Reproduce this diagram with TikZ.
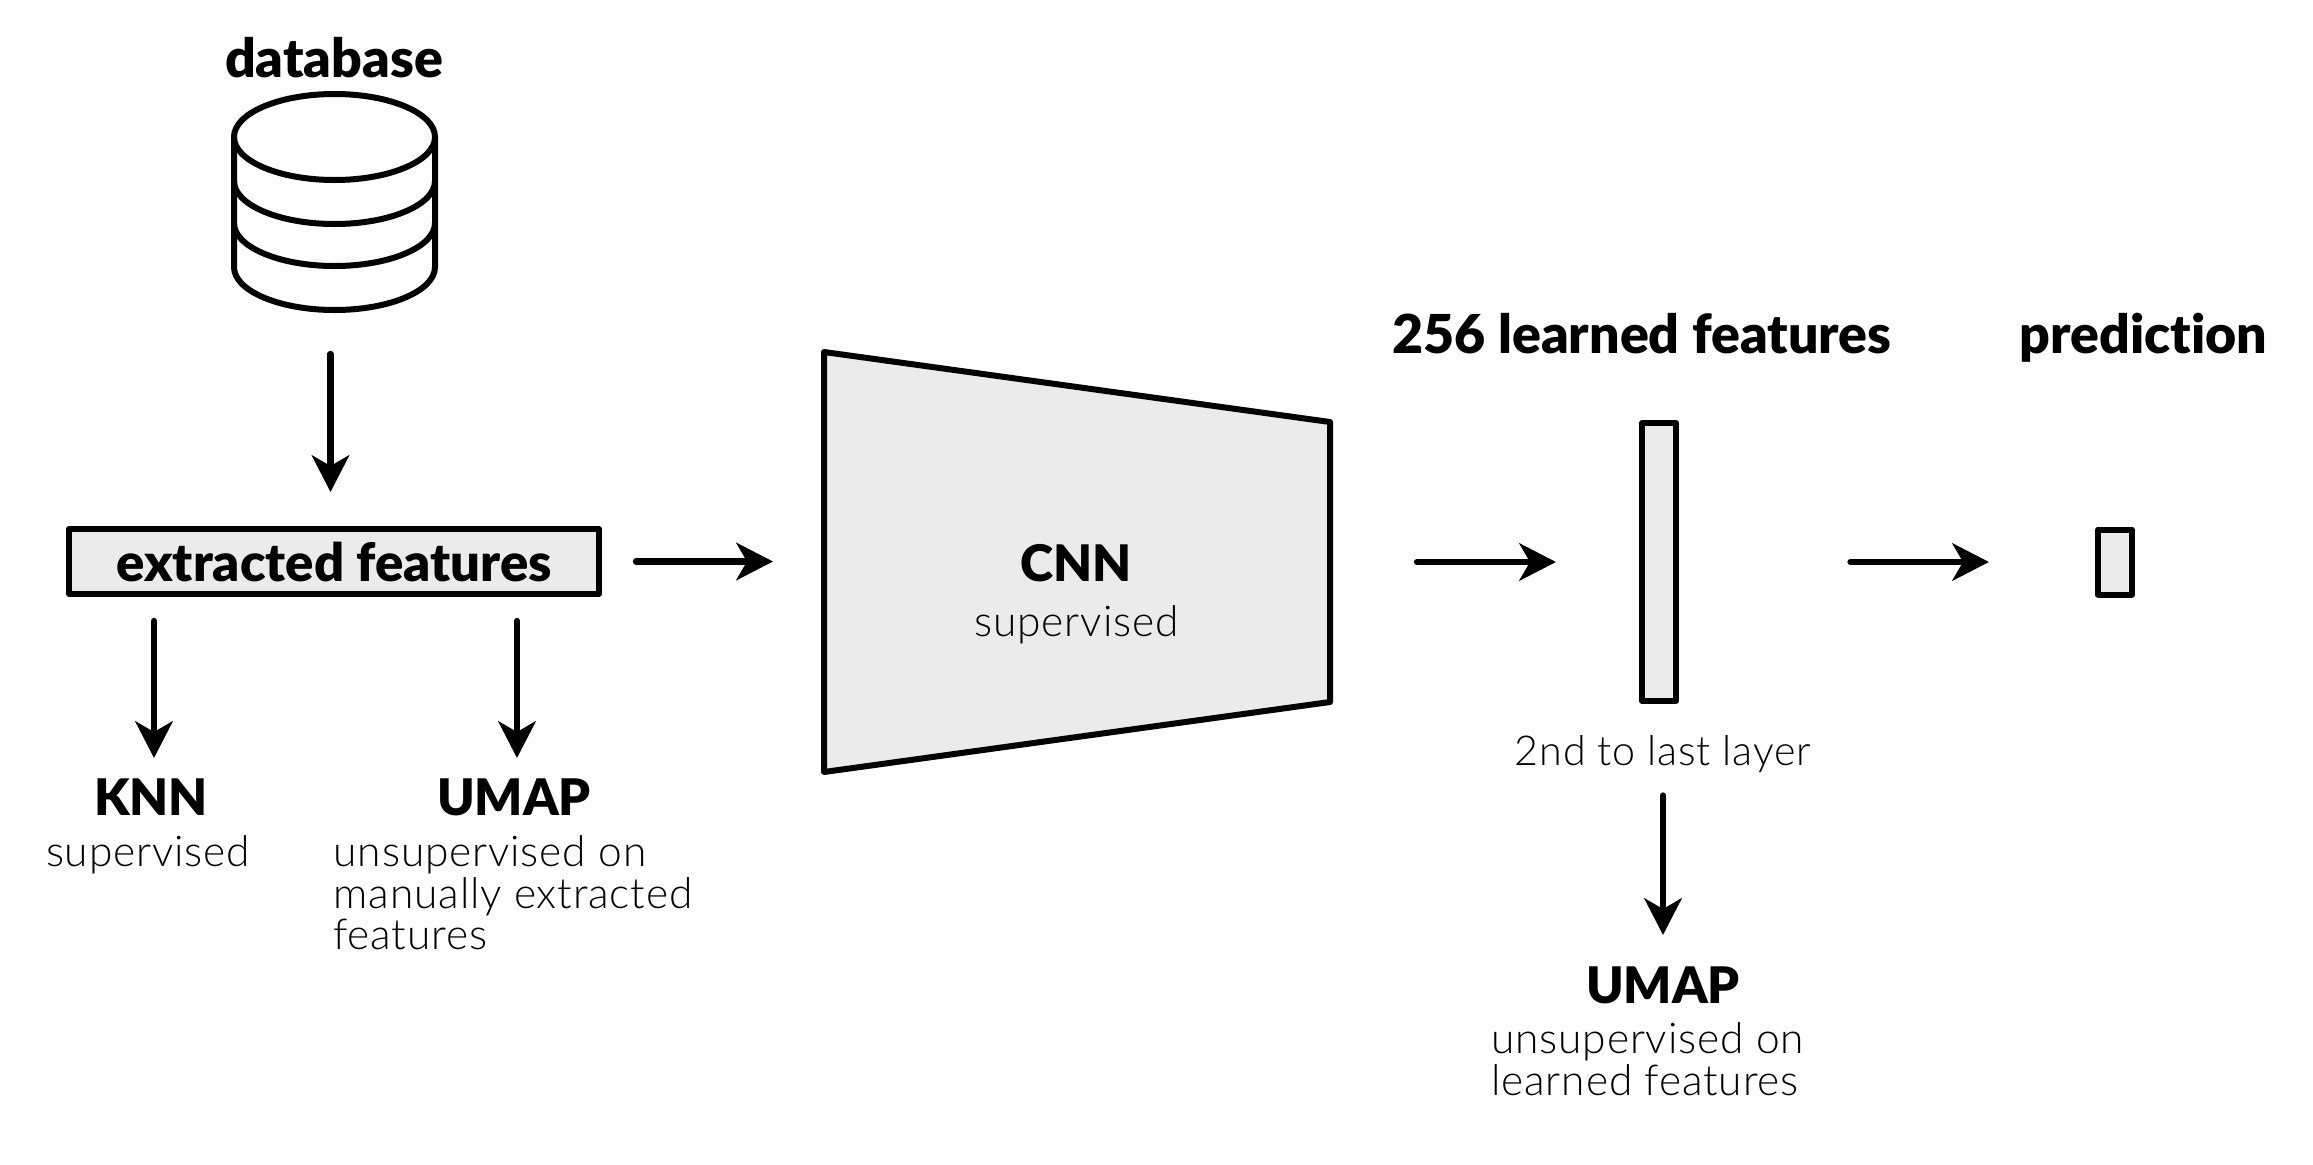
\documentclass[tikz,border=0pt]{standalone}
\usepackage{fontspec}
\setmainfont{Lato}
\newfontfamily\hdfont{Lato Black}[Ligatures=NoCommon]
\newfontfamily\ltfont{Lato Light}[LetterSpace=2,Ligatures=NoCommon]
\usetikzlibrary{arrows.meta,calc}
\definecolor{boxg}{HTML}{EBEBEB}
\tikzset{
 px/.style={x=0.03cm,y=-0.03cm},
 ln/.style={line width=0.18cm,draw=black,line cap=round,line join=round},
 box/.style={ln,fill=boxg,inner sep=0pt},
 arr/.style={line width=0.19cm,draw=black,line cap=round,-{Stealth[length=1.1cm,width=1.12cm,inset=0.32cm]}},
 hd/.style={inner sep=0pt,anchor=base,font=\fontsize{45.8pt}{46pt}\hdfont,text=black},
 hdc/.style={inner sep=0pt,anchor=base,font=\fontsize{43pt}{44pt}\hdfont,text=black},
 tx/.style={inner sep=0pt,anchor=base,font=\fontsize{36.25pt}{37pt}\ltfont,text=black},
 txl/.style={tx,anchor=base west},
}
\begin{document}
\begin{tikzpicture}[px]
\useasboundingbox (0,0) rectangle (2313,1164);
\fill[white] (0,0) rectangle (2313,1164);
% database
\node[hd] (db) at (334,77.5) {database};
\draw[ln,fill=white] (234,137) -- (234,267) arc[start angle=180,end angle=0,x radius=100.5,y radius=43] -- (435,137);
\draw[ln] (234,223) arc[start angle=180,end angle=0,x radius=100.5,y radius=43];
\draw[ln] (234,181) arc[start angle=180,end angle=0,x radius=100.5,y radius=43];
\draw[ln] (334.5,137) ellipse[x radius=100.5,y radius=43];
\coordinate (dbbot) at (330.5,310);
% extracted features
\node[box,minimum width=530*0.03cm,minimum height=65*0.03cm] (ef) at (334,561.5) {};
\node[hd,font=\fontsize{44.9pt}{46pt}\hdfont] (eft) at (334,581) {extracted features};
% CNN
\draw[box] (824,352) -- (1330,422) -- (1330,702) -- (824,772) -- cycle;
\coordinate (cnnL) at (824,561.5);
\coordinate (cnnR) at (1330,562);
\node[hdc] (cnn) at (1076,581.5) {CNN};
\node[tx] (cnns) at (1076.5,636) {supervised};
% layer
\node[box,minimum width=34*0.03cm,minimum height=278*0.03cm] (lay) at (1659,562) {};
\node[box,minimum width=34*0.03cm,minimum height=65*0.03cm] (pred) at (2115,562) {};
\node[hd] (lf) at (1642,353.5) {256 learned features};
\node[hd] (pt) at (2143.5,353.5) {prediction};
\node[tx,font=\fontsize{35.2pt}{37pt}\ltfont] (ls) at (1663,765) {2nd to last layer};
% bottom labels
\node[hdc] (knn) at (151,815) {KNN};
\node[tx] (knns) at (148,866) {supervised};
\node[hdc] (um1) at (514,815) {UMAP};
\node[txl] (um1a) at (333.5,866) {unsupervised on};
\node[txl] (um1b) at (333.5,908) {manually extracted};
\node[txl] (um1c) at (333,949) {features};
\node[hdc] (um2) at (1663,1003) {UMAP};
\node[txl] (um2a) at (1491,1053) {unsupervised on};
\node[txl] (um2b) at (1491,1095) {learned features};
% arrows
\coordinate (a0) at (330.5,492);
\draw[arr,shorten <=44*0.03cm] (dbbot) -- (a0);
\draw[arr,shorten <=34*0.03cm,shorten >=51*0.03cm] (ef.east) -- (cnnL);
\coordinate (a1) at (154,758);
\coordinate (a2) at (517,758);
\draw[arr,shorten <=24*0.03cm] (ef.south -| a1) -- (a1);
\draw[arr,shorten <=24*0.03cm] (ef.south -| a2) -- (a2);
\draw[arr,shorten <=87*0.03cm,shorten >=83*0.03cm] (cnnR) -- (lay.west);
\draw[arr,shorten <=171.5*0.03cm,shorten >=106*0.03cm] (lay.east) -- (pred.west);
\coordinate (a3) at (1663,935);
\draw[arr,shorten <=23*0.03cm] (ls.south) -- (a3);
\end{tikzpicture}
\end{document}
